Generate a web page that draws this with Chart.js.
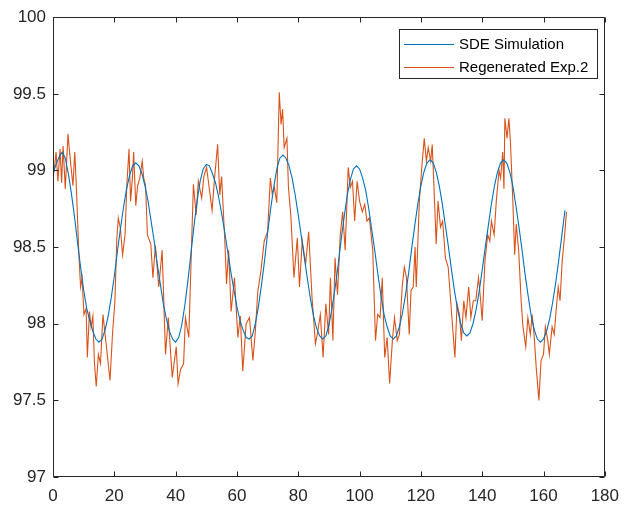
<!DOCTYPE html>
<html><head><meta charset="utf-8">
<script src="https://cdn.jsdelivr.net/npm/chart.js@4.4.1/dist/chart.umd.min.js"></script>
<style>html,body{margin:0;padding:0;background:#fff;}#wrap{width:628px;height:510px;}</style>
</head><body><div id="wrap"><canvas id="c" width="628" height="510"></canvas></div>
<script>
const seriesNames = ['SDE Simulation', 'Regenerated Exp.2'];
const seriesColors = ['#0072BD', '#D95319'];
const xTicks = [0, 20, 40, 60, 80, 100, 120, 140, 160, 180];
const yTicks = [97, 97.5, 98, 98.5, 99, 99.5, 100];

const simHours = Array.from({length: 168}, (_, i) => i);
const simTemp = [
  98.98, 99.04, 99.09, 99.12, 99.08, 98.98, 98.85, 98.70, 98.53, 98.37, 98.22, 98.10, 98.02, 97.95, 97.90, 97.88,
  97.90, 97.96, 98.05, 98.17, 98.31, 98.47, 98.62, 98.76, 98.88, 98.97, 99.03, 99.05,
  99.03, 98.98, 98.90, 98.80, 98.67, 98.54, 98.39, 98.26, 98.13, 98.03, 97.95, 97.90, 97.88,
  97.91, 97.99, 98.12, 98.28, 98.46, 98.64, 98.80, 98.93, 99.01, 99.04,
  99.03, 98.98, 98.92, 98.83, 98.72, 98.60, 98.47, 98.34, 98.22, 98.11, 98.02, 97.96, 97.91, 97.90,
  97.92, 98.00, 98.11, 98.25, 98.41, 98.59, 98.75, 98.89, 99.01, 99.08, 99.10,
  99.08, 99.03, 98.95, 98.84, 98.71, 98.57, 98.43, 98.29, 98.16, 98.05, 97.97, 97.92, 97.90,
  97.92, 97.99, 98.10, 98.23, 98.38, 98.55, 98.70, 98.84, 98.94, 99.01, 99.03,
  99.01, 98.95, 98.87, 98.75, 98.61, 98.47, 98.32, 98.18, 98.06, 97.98, 97.92, 97.90,
  97.92, 97.98, 98.07, 98.19, 98.33, 98.49, 98.64, 98.78, 98.90, 98.99, 99.05, 99.07,
  99.05, 98.99, 98.90, 98.78, 98.64, 98.50, 98.35, 98.21, 98.09, 98.00, 97.94, 97.92,
  97.94, 98.00, 98.09, 98.21, 98.35, 98.50, 98.64, 98.78, 98.90, 98.99, 99.05, 99.07,
  99.05, 98.99, 98.90, 98.77, 98.63, 98.48, 98.32, 98.18, 98.05, 97.96, 97.90, 97.88,
  97.90, 97.95, 98.03, 98.14, 98.27, 98.42, 98.58, 98.74
];

const expHours = [
  0, 0.5, 1.0, 1.6, 2.3, 2.8, 3.3, 4.0, 4.9, 5.5, 6.0, 6.5, 7.1, 7.6, 8.4, 9.0, 9.5, 10.1, 10.8, 11.2,
  11.9, 12.4, 13.0, 13.5, 14.1, 14.8, 15.5, 16.3, 17.0, 17.6, 18.6, 19.4, 20.2, 20.8, 21.3, 22.0, 22.7, 23.5, 24.1, 24.8,
  25.3, 25.9, 26.3, 27.0, 27.6, 28.3, 29.1, 29.6, 30.2, 30.8, 31.9, 32.6, 33.4, 34.5, 35.6, 36.7, 37.6, 38.9, 40.2, 40.8,
  41.6, 42.6, 43.2, 44.3, 45.3, 45.8, 46.7, 47.4, 48.5, 49.2, 50.1, 50.8, 51.9, 52.7, 53.7, 54.4, 55.0, 56.1, 56.6, 57.3,
  58.1, 59.2, 60.3, 61.1, 61.9, 63.0, 64.1, 65.2, 66.0, 66.8, 67.8, 68.9, 70.0, 70.9, 71.5, 72.2, 73.0, 73.8, 74.4, 74.9,
  75.4, 76.3, 76.8, 77.6, 78.6, 79.7, 80.4, 81.3, 82.4, 83.4, 84.5, 85.6, 86.2, 87.2, 88.1, 89.0, 89.9, 90.5, 91.3, 92.0,
  92.8, 93.7, 94.5, 95.3, 96.3, 97.0, 97.7, 98.4, 99.2, 100.0, 100.9, 101.7, 102.4, 103.2, 104.3, 105.2, 105.9, 106.7, 107.4, 108.2,
  109.0, 109.8, 110.7, 111.4, 112.3, 113.0, 113.9, 114.6, 115.3, 116.2, 116.8, 117.5, 118.1, 118.5, 119.5, 120.3, 121.1, 121.8, 122.4, 123.2,
  123.7, 124.5, 125.0, 125.6, 126.4, 127.1, 128.0, 128.9, 130.2, 131.1, 131.8, 132.6, 133.2, 134.0, 134.7, 135.6, 136.3, 137.1, 137.9, 138.8,
  139.5, 140.0, 140.9, 141.8, 142.5, 143.0, 143.9, 144.6, 145.5, 146.0, 146.7, 147.1, 147.4, 148.1, 148.7, 149.2, 150.0, 150.6, 151.1, 151.9,
  152.7, 153.3, 154.2, 154.9, 155.7, 156.3, 157.0, 157.6, 158.5, 159.2, 160.0, 160.6, 161.4, 161.9, 162.8, 163.5, 164.0, 164.8, 165.4, 166.1,
  166.9, 167.5
];
const expTemp = [
  98.95, 99.02, 99.12, 98.93, 99.14, 98.92, 99.16, 98.88, 99.24, 99.10, 99.00, 98.90, 99.12, 98.90, 98.47, 98.24, 98.30, 98.06, 98.10, 97.78,
  98.08, 97.98, 98.05, 97.75, 97.59, 97.80, 97.74, 98.06, 97.93, 97.82, 97.63, 97.93, 98.15, 98.55, 98.69, 98.62, 98.45, 98.58, 98.91, 99.14,
  98.80, 98.95, 99.12, 98.77, 98.90, 98.95, 99.06, 98.95, 98.90, 98.58, 98.52, 98.30, 98.51, 98.24, 98.48, 97.80, 98.04, 97.65, 97.85, 97.61,
  97.70, 97.74, 98.04, 97.91, 98.58, 98.91, 98.71, 98.93, 98.82, 98.96, 99.02, 98.91, 98.74, 98.95, 99.17, 98.84, 98.96, 98.52, 98.26, 98.48,
  98.08, 98.30, 97.91, 98.05, 97.69, 98.00, 98.04, 97.76, 97.95, 98.21, 98.34, 98.54, 98.60, 98.95, 98.85, 98.89, 98.79, 99.51, 99.30, 99.40,
  99.15, 99.21, 98.89, 98.70, 98.30, 98.56, 98.24, 98.54, 98.39, 98.60, 98.17, 97.87, 97.93, 98.06, 97.78, 98.13, 97.93, 98.30, 97.89, 98.43,
  98.19, 98.58, 98.73, 98.48, 99.02, 98.89, 98.93, 98.67, 98.93, 98.80, 98.73, 98.78, 98.67, 98.69, 98.48, 97.89, 98.06, 98.04, 98.30, 97.78,
  97.91, 97.61, 97.89, 98.04, 97.89, 97.93, 98.24, 98.37, 98.30, 97.93, 98.22, 98.24, 98.50, 98.24, 98.80, 99.02, 99.21, 99.06, 99.15, 99.06,
  99.17, 98.78, 98.52, 98.80, 98.63, 98.67, 98.43, 98.37, 98.02, 97.78, 98.13, 98.06, 97.89, 98.15, 98.04, 98.24, 98.04, 98.15, 98.15, 98.30,
  98.15, 98.02, 98.41, 98.58, 98.54, 98.67, 98.58, 98.80, 99.00, 98.95, 99.12, 98.88, 99.34, 99.21, 99.34, 99.19, 98.80, 98.45, 98.65, 98.48,
  98.15, 97.98, 97.85, 98.04, 97.93, 98.06, 97.91, 97.72, 97.50, 97.76, 97.80, 97.98, 97.89, 97.80, 97.98, 97.93, 98.06, 98.24, 98.15, 98.41,
  98.58, 98.73
];

const FONT = "'Liberation Sans', Arial, Helvetica, sans-serif";
const AXIS = '#262626';

const framePlugin = {
  id: 'frame',
  afterDatasetsDraw(chart) {
    const {ctx, chartArea: ca, scales: {x, y}} = chart;
    const L = Math.round(ca.left) + 0.5, R = Math.round(ca.right) - 0.5;
    const T = Math.round(ca.top) + 0.5, B = Math.round(ca.bottom) - 0.5;
    ctx.save();
    ctx.strokeStyle = AXIS; ctx.lineWidth = 1;
    ctx.beginPath();
    ctx.moveTo(L, T); ctx.lineTo(R, T); ctx.lineTo(R, B); ctx.lineTo(L, B); ctx.closePath();
    const tl = 5;
    xTicks.forEach(v => {
      const p = Math.round(x.getPixelForValue(v)) + 0.5;
      ctx.moveTo(p, B); ctx.lineTo(p, B - tl);
      ctx.moveTo(p, T); ctx.lineTo(p, T + tl);
    });
    yTicks.forEach(v => {
      const p = Math.round(y.getPixelForValue(v)) + 0.5;
      ctx.moveTo(L, p); ctx.lineTo(L + tl, p);
      ctx.moveTo(R, p); ctx.lineTo(R - tl, p);
    });
    ctx.stroke();

    // legend box (inside axes, top-right)
    const bx = 399.5, by = 29.5, bw = 198, bh = 49;
    ctx.fillStyle = '#ffffff';
    ctx.fillRect(bx, by, bw, bh);
    ctx.strokeRect(bx, by, bw, bh);
    ctx.font = '15px ' + FONT;
    ctx.textBaseline = 'middle';
    ctx.textAlign = 'left';
    const rows = [44, 67];
    chart.data.datasets.forEach((ds, i) => {
      const yy = rows[i] + 0.5;
      ctx.strokeStyle = ds.borderColor; ctx.lineWidth = 1;
      ctx.beginPath(); ctx.moveTo(404, yy); ctx.lineTo(454, yy); ctx.stroke();
      ctx.fillStyle = '#000000';
      ctx.fillText(ds.label, 459, rows[i] + 1);
    });
    ctx.restore();
  }
};

new Chart(document.getElementById('c'), {
  type: 'line',
  data: {
    datasets: [
      {
        label: seriesNames[0],
        data: simHours.map((h, i) => ({x: h, y: simTemp[i]})),
        borderColor: seriesColors[0], borderWidth: 1.1, pointRadius: 0, tension: 0, fill: false
      },
      {
        label: seriesNames[1],
        data: expHours.map((h, i) => ({x: h, y: expTemp[i]})),
        borderColor: seriesColors[1], borderWidth: 1.1, pointRadius: 0, tension: 0, fill: false
      }
    ]
  },
  options: {
    responsive: false, animation: false, devicePixelRatio: 1,
    layout: {padding: {top: 15, right: 17, left: 0, bottom: 0}},
    plugins: {legend: {display: false}, tooltip: {enabled: false}},
    scales: {
      x: {
        type: 'linear', min: 0, max: 180,
        afterBuildTicks: s => { s.ticks = xTicks.map(v => ({value: v})); },
        afterFit: s => { s.height = 33; },
        grid: {display: false, drawTicks: false},
        border: {display: false},
        ticks: {color: AXIS, font: {family: FONT, size: 17}, padding: 9, maxRotation: 0, autoSkip: false,
                callback: v => String(v)}
      },
      y: {
        type: 'linear', min: 97, max: 100,
        afterBuildTicks: s => { s.ticks = yTicks.map(v => ({value: v})); },
        afterFit: s => { s.width = 53; },
        grid: {display: false, drawTicks: false},
        border: {display: false},
        ticks: {color: AXIS, font: {family: FONT, size: 17}, padding: 7, autoSkip: false,
                callback: v => String(v)}
      }
    }
  },
  plugins: [framePlugin]
});
</script></body></html>
